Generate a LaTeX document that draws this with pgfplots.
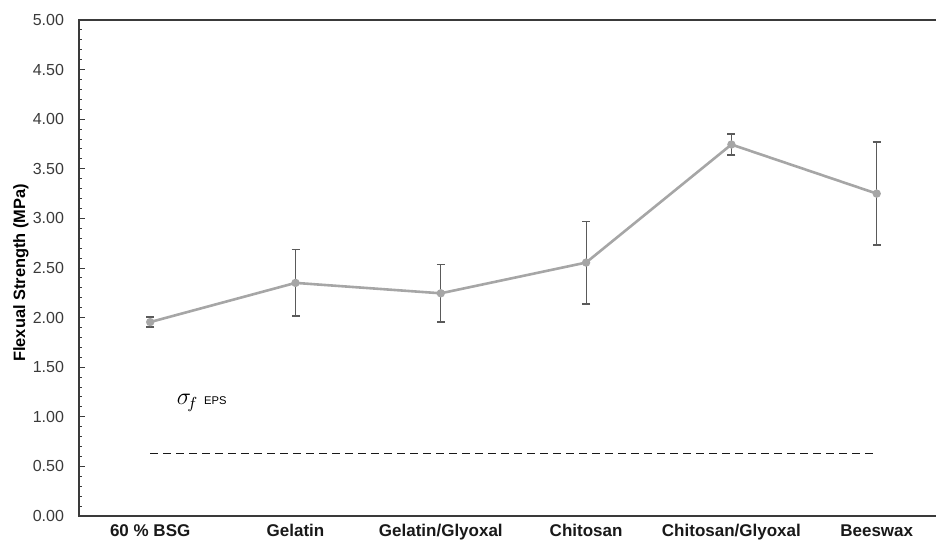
\documentclass[border=0pt]{standalone}
\usepackage{pgfplots}
\pgfplotsset{compat=1.18}
\usepackage{fontspec}
\setmainfont{Liberation Sans}
\definecolor{linegray}{HTML}{A6A6A6}
\definecolor{errgray}{HTML}{5A5A5A}
\definecolor{axgray}{HTML}{3A3A3A}
\begin{document}
\begin{tikzpicture}
\begin{axis}[
  scale only axis,
  width=433pt, height=248pt,
  xmin=-0.49, xmax=5.47,
  ymin=0, ymax=5,
  ytick={0,0.5,...,5},
  minor y tick num=4,
  yticklabel style={/pgf/number format/fixed, /pgf/number format/fixed zerofill, /pgf/number format/precision=2, /pgf/number format/assume math mode=true,
    font=\fontsize{8}{9}\selectfont, text=axgray, xshift=-4pt},
  xtick={0,1,2,3,4,5},
  xticklabels={60 \% BSG, Gelatin, Gelatin/Glyoxal, Chitosan, Chitosan/Glyoxal, Beeswax},
  xticklabel style={font=\bfseries\fontsize{8.5}{10}\selectfont, text=black!90, yshift=-0.8pt},
  x tick style={draw=none},
  ytick pos=left,
  tick align=inside,
  major tick length=3pt,
  minor tick length=1.6pt,
  y tick style={axgray, line width=0.5pt},
  axis line style={axgray, line width=1pt},
  every axis y label/.style={at={(axis description cs:-0.067,0.49)}, rotate=90, anchor=center},
  ylabel={\bfseries\fontsize{8.2}{9}\selectfont Flexual Strength (MPa)},
  clip=false,
]
\addplot[color=linegray, line width=1.3pt, mark=*, mark size=1.4pt,
  mark options={fill=linegray, draw=linegray},
  error bars/.cd, y dir=both, y explicit,
  error bar style={errgray, line width=0.6pt},
  error mark options={rotate=90, errgray, mark size=2pt, line width=0.8pt}]
coordinates {
  (0,1.955) +- (0,0.05)
  (1,2.35) +- (0,0.335)
  (2,2.245) +- (0,0.29)
  (3,2.555) +- (0,0.415)
  (4,3.745) +- (0,0.105)
  (5,3.25) +- (0,0.52)
};
\addplot[black!90, line width=0.8pt, dash pattern=on 3.8pt off 2.7pt] coordinates {(0,0.632) (5,0.632)};
\node[anchor=base west, inner sep=0pt] at (axis cs:0.18,1.12)
  {\fontsize{12}{14}\selectfont$\sigma_{\!f}$\hspace{3pt}{\fontsize{5.6}{6}\selectfont EPS}};
\end{axis}
\pgfresetboundingbox
\path ([xshift=-39.5pt,yshift=-15.5pt]current axis.south west) rectangle ([xshift=428.5pt,yshift=258pt]current axis.south west);
\end{tikzpicture}
\end{document}
